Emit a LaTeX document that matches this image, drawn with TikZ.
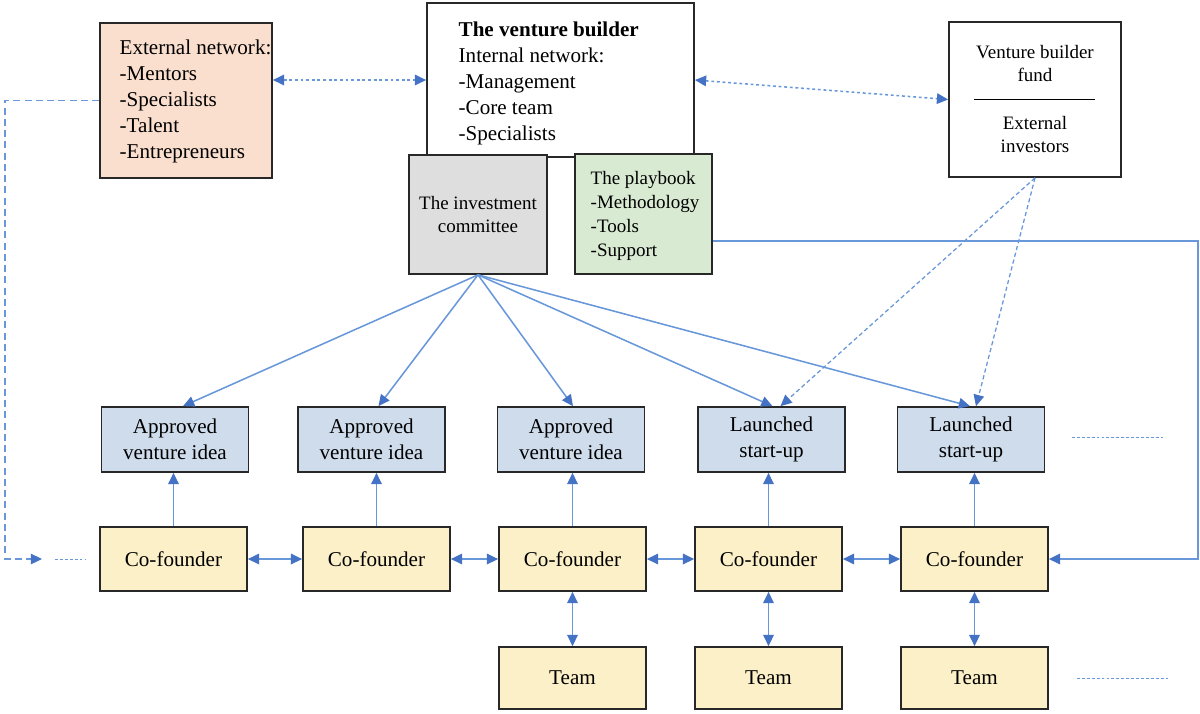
\documentclass[tikz,border=0pt]{standalone}
\usepackage{fontspec}
\setmainfont{Liberation Serif}
\usetikzlibrary{arrows.meta,calc}
\definecolor{peach}{RGB}{250,223,206}
\definecolor{greybox}{RGB}{222,222,222}
\definecolor{greenbox}{RGB}{217,234,211}
\definecolor{bluebox}{RGB}{207,220,236}
\definecolor{yellowbox}{RGB}{251,240,199}
\definecolor{boxline}{RGB}{40,40,40}
\definecolor{linkblue}{RGB}{105,152,218}
\definecolor{tipblue}{RGB}{68,114,196}
\newcommand\mainsize{\fontsize{15}{18.5}\selectfont}
\newcommand\subsize{\fontsize{13.5}{17}\selectfont}

\begin{document}
\begin{tikzpicture}[x=0.025cm, y=-0.025cm]
        \tikzstyle{every node}=[inner sep=1pt]
        \tikzstyle{box}=[rectangle, draw=boxline, line width=1.2pt]
        \tikzstyle{idea}=[box, fill=bluebox, minimum width=3.675cm, minimum height=1.625cm, align=center, font=\mainsize]
        \tikzstyle{founder}=[box, fill=yellowbox, minimum width=3.675cm, minimum height=1.6cm, font=\mainsize]
        \tikzstyle{team}=[box, fill=yellowbox, minimum width=3.675cm, minimum height=1.55cm, font=\mainsize]
        \tikzstyle{link}=[draw=linkblue, line width=1.1pt, >={Triangle[length=8pt,width=7.5pt,color=tipblue]}]
        \tikzstyle{dotlink}=[link, dash pattern=on 2pt off 2pt]
        \tikzstyle{dashlink}=[link, line width=0.9pt, dash pattern=on 3pt off 2pt]
        \tikzstyle{trail}=[draw=linkblue, line width=0.7pt, dash pattern=on 2pt off 1.5pt]
        \useasboundingbox (0,0) rectangle (1200,713);

        % top row
        \node [box, fill=peach, minimum width=4.3cm, minimum height=3.875cm] (ext) at (186,100.5) {};
        \node [anchor=west, align=left, font=\mainsize] (exttxt) at (118,101) {External network:\\-Mentors\\-Specialists\\-Talent\\-Entrepreneurs};
        \node [box, fill=white, minimum width=6.675cm, minimum height=3.85cm] (vb) at (560.5,80) {};
        \node [anchor=west, align=left, font=\mainsize] (vbtxt) at (457,83.5) {\textbf{The venture builder}\\Internal network:\\-Management\\-Core team\\-Specialists};
        \node [box, fill=greybox, minimum width=3.45cm, minimum height=2.975cm, align=center, font=\subsize] (ic) at (478,214.5) {The investment\\committee};
        \node [box, fill=greenbox, minimum width=3.425cm, minimum height=3cm] (pb) at (643.5,214) {};
        \node [anchor=west, align=left, font=\subsize] (pbtxt) at (589,216) {The playbook\\-Methodology\\-Tools\\-Support};
        \node [box, fill=white, minimum width=4.3cm, minimum height=3.875cm] (fund) at (1035,99.5) {};
        \node [align=center, font=\subsize] (fundtop) at (1035,63.5) {Venture builder\\fund};
        \node [align=center, font=\subsize] (fundbot) at (1035,134.5) {External\\investors};
        \draw [line width=0.6pt] ($(fund.west)+(26,0)$) -- ($(fund.east)+(-27,0)$);

        % ventures
        \node [idea] (i1) at (175,439.5) {Approved\\venture idea};
        \node [idea] (i2) at (371.5,439.5) {Approved\\venture idea};
        \node [idea] (i3) at (571,439.5) {Approved\\venture idea};
        \node [idea] (i4) at (771.5,439.5) {Launched\\start-up};
        \node [idea] (i5) at (971,439.5) {Launched\\start-up};

        \node [founder] (c1) at (173.5,559) {Co-founder};
        \node [founder] (c2) at (376.5,559) {Co-founder};
        \node [founder] (c3) at (572.5,559) {Co-founder};
        \node [founder] (c4) at (768.5,559) {Co-founder};
        \node [founder] (c5) at (974.5,559) {Co-founder};

        \node [team] (t3) at (572.5,678) {Team};
        \node [team] (t4) at (768.5,678) {Team};
        \node [team] (t5) at (974.5,678) {Team};

        \coordinate (lcorner) at (5,559);
        \coordinate (lend) at (42,559);
        \coordinate (ldot1) at (55,559);
        \coordinate (ldot2) at (86,559);
        \coordinate (rcorner) at (1198,241);
        \coordinate (idot1) at (1072,437);
        \coordinate (idot2) at (1164,437);
        \coordinate (tdot1) at (1077,678);
        \coordinate (tdot2) at (1170,678);

        % connectors
        \draw [dotlink, <->] (ext.east |- vb.west) -- (vb.west);
        \draw [dotlink, <->] (vb.east) -- (fund.west);
        \draw [link, line width=0.9pt, dash pattern=on 5pt off 3pt, ->] (ext.west) -| (lcorner) -- (lend);
        \draw [trail] (ldot1) -- (ldot2);
        \draw [trail] (idot1) -- (idot2);
        \draw [trail] (tdot1) -- (tdot2);
        \draw [link, ->] (ic.south) -- ($(i1.north)+(8,0)$);
        \draw [link, ->] (ic.south) -- ($(i2.north)+(7,0)$);
        \draw [link, ->] (ic.south) -- ($(i3.north)+(2,0)$);
        \draw [link, ->] (ic.south) -- ($(i4.north)+(1,0)$);
        \draw [link, ->] (ic.south) -- ($(i5.north)+(-1,0)$);
        \draw [dashlink, ->] (fund.south) -- ($(i4.north)+(9,0)$);
        \draw [dashlink, ->] (fund.south) -- ($(i5.north)+(5,0)$);
        \draw [link, ->] ($(pb.east)+(0,27)$) -- (rcorner) |- (c5.east);
        \draw [link, ->] (c1.north) -- (c1.north |- i1.south);
        \draw [link, ->] (c2.north) -- (c2.north |- i2.south);
        \draw [link, ->] (c3.north) -- (c3.north |- i3.south);
        \draw [link, ->] (c4.north) -- (c4.north |- i4.south);
        \draw [link, ->] (c5.north) -- (c5.north |- i5.south);
        \draw [link, <->] (c1.east) -- (c2.west);
        \draw [link, <->] (c2.east) -- (c3.west);
        \draw [link, <->] (c3.east) -- (c4.west);
        \draw [link, <->] (c4.east) -- (c5.west);
        \draw [link, <->] (c3.south) -- (t3.north);
        \draw [link, <->] (c4.south) -- (t4.north);
        \draw [link, <->] (c5.south) -- (t5.north);
    \end{tikzpicture}
\end{document}
